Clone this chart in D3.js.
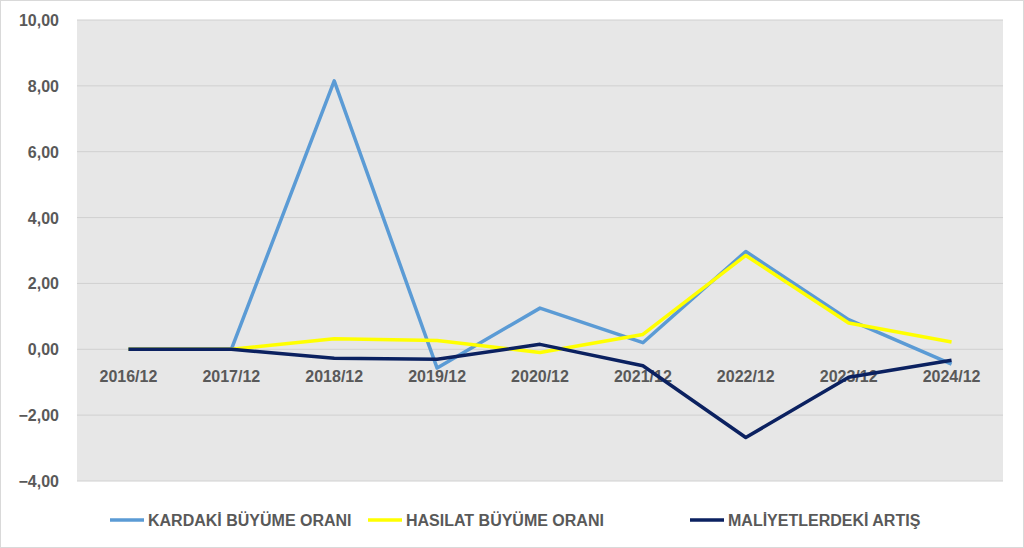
<!DOCTYPE html><html><head><meta charset="utf-8">
<script src="https://cdn.jsdelivr.net/npm/d3@7"></script>
<style>body{margin:0;background:#fff}text{font-family:"Liberation Sans",Arial,sans-serif}</style></head><body>
<svg id="c" width="1024" height="548"></svg>
<script>
const categories=["2016/12","2017/12","2018/12","2019/12","2020/12","2021/12","2022/12","2023/12","2024/12"];
const kardaki=[0,0,8.15,-0.57,1.25,0.2,2.97,0.9,-0.45];
const hasilat=[0,0,0.32,0.27,-0.1,0.45,2.85,0.8,0.22];
const maliyet=[0,0,-0.27,-0.3,0.15,-0.5,-2.68,-0.85,-0.33];
const yTicks=[-4,-2,0,2,4,6,8,10];
const seriesNames=["KARDAKİ BÜYÜME ORANI","HASILAT BÜYÜME ORANI","MALİYETLERDEKİ ARTIŞ"];
const colors=["#5b9bd5","#ffff00","#0b2160"];
const svg=d3.select("#c");
svg.append("rect").attr("x",0.5).attr("y",0.5).attr("width",1023).attr("height",547).attr("fill","#fff").attr("stroke","#d9d9d9");
const L=77,R=1003,T=20,B=481;
const x=d3.scaleBand().domain(categories).range([L,R]);
const y=d3.scaleLinear().domain([-4,10]).range([B,T]);
svg.append("rect").attr("x",L).attr("y",T).attr("width",R-L).attr("height",B-T).attr("fill","#e7e7e7");
svg.append("g").selectAll("line").data(yTicks).join("line").attr("x1",L).attr("x2",R)
 .attr("y1",d=>y(d)).attr("y2",d=>y(d)).attr("stroke","#d0d0d0").attr("stroke-width",1);
svg.append("g").selectAll("text").data(yTicks).join("text").attr("x",L-18).attr("y",d=>y(d)+6)
 .attr("text-anchor","end").attr("font-size",16).attr("font-weight","bold").attr("fill","#595959")
 .text(d=>d3.format(".2f")(d).replace(".",","));
svg.append("g").selectAll("text").data(categories).join("text").attr("x",d=>x(d)+x.bandwidth()/2).attr("y",y(0)+33)
 .attr("text-anchor","middle").attr("font-size",16).attr("font-weight","bold").attr("fill","#595959").text(d=>d);
const line=d3.line().x((d,i)=>x(categories[i])+x.bandwidth()/2).y(d=>y(d));
[kardaki,hasilat,maliyet].forEach((s,i)=>svg.append("path").datum(s).attr("d",line).attr("fill","none")
 .attr("stroke",colors[i]).attr("stroke-width",3.5).attr("stroke-linejoin","round"));
const lx=[110,368,690];
seriesNames.forEach((n,i)=>{
 svg.append("line").attr("x1",lx[i]).attr("x2",lx[i]+34).attr("y1",520).attr("y2",520).attr("stroke",colors[i]).attr("stroke-width",3.5);
 svg.append("text").attr("x",lx[i]+38).attr("y",526).attr("font-size",16).attr("font-weight","bold").attr("fill","#595959").text(n);
});
</script></body></html>
